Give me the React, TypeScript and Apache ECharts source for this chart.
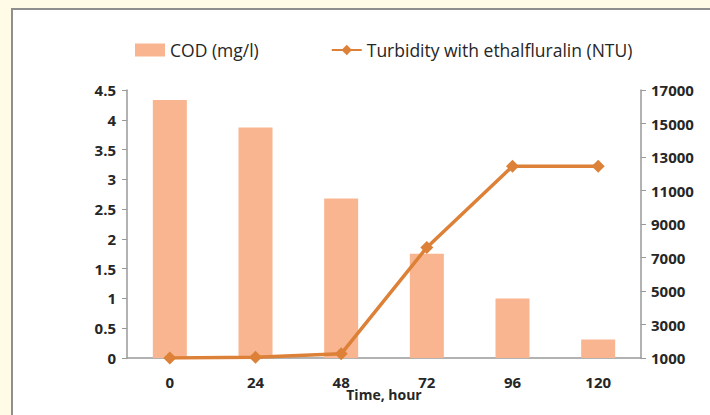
import React, { useEffect, useRef } from "react";
import * as echarts from "echarts";

const categories = ["0", "24", "48", "72", "96", "120"];
const codValues = [4.33, 3.87, 2.68, 1.75, 1.0, 0.31];
const turbidityValues = [1000, 1050, 1250, 7600, 12450, 12450];
const codLabel = "COD (mg/l)";
const turbLabel = "Turbidity with ethalfluralin (NTU)";
const xAxisName = "Time, hour";

const FONT = "'Open Sans', Lato, sans-serif";
const tickLabel = { fontSize: 15, fontWeight: "bold", color: "#262626", fontFamily: FONT };

export default function App() {
  const ref = useRef<HTMLDivElement>(null);
  useEffect(() => {
    if (!ref.current) return;
    const chart = echarts.init(ref.current, undefined, { renderer: "svg" });
    chart.setOption({
      animation: false,
      backgroundColor: "transparent",
      textStyle: { fontFamily: FONT },
      legend: {
        left: 130,
        top: 36,
        itemWidth: 30,
        itemHeight: 13,
        itemGap: 72,
        textStyle: { fontSize: 17.5, color: "#262626", fontFamily: FONT },
        data: [
          { name: codLabel, icon: "rect" },
          { name: turbLabel },
        ],
      },
      grid: { left: 127, right: 69, top: 90, bottom: 57 },
      xAxis: {
        type: "category",
        data: categories,
        name: xAxisName,
        nameLocation: "middle",
        nameGap: 29,
        nameMoveOverlap: false,
        nameTextStyle: { ...tickLabel, fontSize: 14 },
        axisLine: { lineStyle: { color: "#999", width: 1.5 } },
        axisTick: { show: false },
        axisLabel: { ...tickLabel, margin: 16 },
      },
      yAxis: [
        {
          type: "value",
          min: 0,
          max: 4.5,
          interval: 0.5,
          splitLine: { show: false },
          axisLine: { show: true, lineStyle: { color: "#999", width: 1.5 } },
          axisTick: { show: true, length: 5, lineStyle: { color: "#999" } },
          axisLabel: { ...tickLabel, margin: 11 },
        },
        {
          type: "value",
          min: 1000,
          max: 17000,
          interval: 2000,
          splitLine: { show: false },
          axisLine: { show: true, lineStyle: { color: "#999", width: 1.5 } },
          axisTick: { show: true, length: 5, lineStyle: { color: "#999" } },
          axisLabel: { ...tickLabel, margin: 10, formatter: (v: number) => String(v) },
        },
      ],
      series: [
        {
          name: codLabel,
          type: "bar",
          data: codValues,
          yAxisIndex: 0,
          barWidth: 34,
          itemStyle: { color: "#F8B590" },
        },
        {
          name: turbLabel,
          type: "line",
          data: turbidityValues,
          yAxisIndex: 1,
          symbol: "diamond",
          symbolSize: 13,
          lineStyle: { color: "#DC8137", width: 3.5 },
          itemStyle: { color: "#DC8137" },
        },
      ],
    });
    return () => chart.dispose();
  }, []);

  return (
    <div style={{ position: "absolute", left: 0, top: 0, width: 710, height: 415, background: "#FFFBE6", overflow: "hidden" }}>
      <div
        style={{
          position: "absolute",
          left: 11,
          top: 8,
          width: 720,
          height: 420,
          background: "#fff",
          borderLeft: "2px solid #8f8f8f",
          borderTop: "2px solid #8f8f8f",
        }}
      />
      <div ref={ref} style={{ position: "absolute", left: 0, top: 0, width: 710, height: 415 }} />
    </div>
  );
}
